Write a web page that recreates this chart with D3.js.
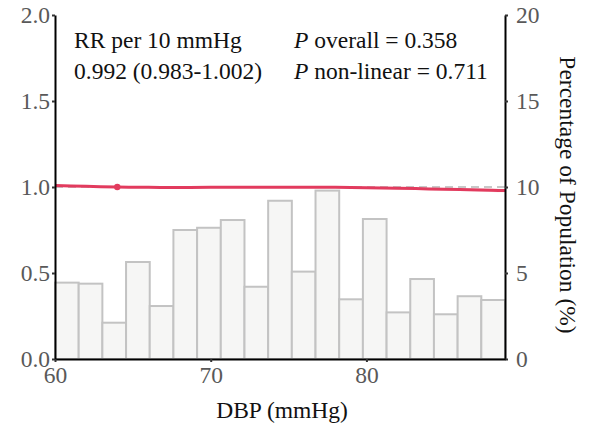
<!doctype html>
<html lang="en">
<head>
    <meta charset="utf-8">
    <script src="https://d3js.org/d3.v7.min.js"></script>
    <style>
        html, body {
            margin: 0;
            padding: 0;
            background: #fff;
        }
        svg text {
            font-family: "Liberation Serif", "DejaVu Serif", serif;
        }
    </style>
</head>
<body>
<svg id="svg" width="590" height="429"></svg>
<script>
    // histogram of DBP (percentage of population per bin)
    var binStart = 60;
    var binEnd = 88.9;
    var binPercent = [4.44, 4.38, 2.11, 5.64, 3.08, 7.5, 7.63, 8.08, 4.2, 9.2,
        5.08, 9.79, 3.47, 8.14, 2.71, 4.65, 2.6, 3.65, 3.43];

    // restricted cubic spline curve (RR vs DBP)
    var curveX = [60, 62, 64, 66, 68, 70, 72, 74, 76, 78, 80, 82, 84, 86, 88, 88.9];
    var curveRR = [1.008, 1.004, 1.0, 0.998, 0.997, 0.998, 0.999, 0.999, 0.999, 0.998, 0.996, 0.993, 0.989, 0.985, 0.981, 0.979];
    var curveLo = [1.0, 0.999, 1.0, 0.995, 0.993, 0.994, 0.995, 0.995, 0.995, 0.994, 0.991, 0.987, 0.982, 0.977, 0.971, 0.969];
    var curveHi = [1.016, 1.009, 1.0, 1.001, 1.001, 1.002, 1.003, 1.003, 1.003, 1.002, 1.001, 0.999, 0.996, 0.993, 0.991, 0.989];
    var refX = 64;

    var leftTicks = [0, 0.5, 1.0, 1.5, 2.0];
    var rightTicks = [0, 5, 10, 15, 20];
    var xTicks = [60, 70, 80];

    var svg = d3.select("#svg");
    var plotL = 55, plotR = 505, plotT = 15, plotB = 359;
    var fs = "23.5px";

    var x = d3.scaleLinear().domain([binStart, binEnd]).range([plotL, plotR]);
    var yRR = d3.scaleLinear().domain([0, 2]).range([plotB, plotT]);
    var yPct = d3.scaleLinear().domain([0, 20]).range([plotB, plotT]);

    var binW = (binEnd - binStart) / binPercent.length;

    // bars
    svg.append("g").selectAll("rect")
        .data(binPercent)
        .enter().append("rect")
        .attr("x", function (d, i) { return x(binStart + i * binW); })
        .attr("y", function (d) { return yPct(d); })
        .attr("width", x(binStart + binW) - x(binStart))
        .attr("height", function (d) { return plotB - yPct(d); })
        .attr("fill", "#f6f6f5")
        .attr("stroke", "#c3c3c3")
        .attr("stroke-width", 2);

    // reference line at RR = 1
    svg.append("line")
        .attr("x1", plotL).attr("x2", plotR)
        .attr("y1", yRR(1)).attr("y2", yRR(1))
        .attr("stroke", "#c8c8c8")
        .attr("stroke-width", 2)
        .attr("stroke-dasharray", "8,5");

    var pts = curveX.map(function (v, i) {
        return {x: v, rr: curveRR[i], lo: curveLo[i], hi: curveHi[i]};
    });

    // confidence band
    svg.append("path")
        .datum(pts)
        .attr("d", d3.area()
            .x(function (d) { return x(d.x); })
            .y0(function (d) { return yRR(d.lo); })
            .y1(function (d) { return yRR(d.hi); })
            .curve(d3.curveMonotoneX))
        .attr("fill", "#f7c6d0")
        .attr("opacity", 0.6);

    svg.append("path")
        .datum(pts)
        .attr("d", d3.line()
            .x(function (d) { return x(d.x); })
            .y(function (d) { return yRR(d.rr); })
            .curve(d3.curveMonotoneX))
        .attr("fill", "none")
        .attr("stroke", "#e23b5e")
        .attr("stroke-width", 3);

    svg.append("circle")
        .attr("cx", x(refX))
        .attr("cy", yRR(1))
        .attr("r", 3.2)
        .attr("fill", "#e23b5e");

    // axes
    var axisStyle = function (g) {
        g.select(".domain").attr("stroke", "#000").attr("stroke-width", 2);
        g.selectAll(".tick line").attr("stroke", "#333").attr("stroke-width", 2);
        g.selectAll(".tick text")
            .attr("fill", "#595959")
            .style("font-family", "Liberation Serif, serif")
            .style("font-size", fs);
    };

    svg.append("g")
        .attr("transform", "translate(" + plotL + ",0)")
        .call(d3.axisLeft(yRR).tickValues(leftTicks).tickFormat(d3.format(".1f"))
            .tickSize(3).tickSizeOuter(0).tickPadding(2))
        .call(axisStyle);

    svg.append("g")
        .attr("transform", "translate(" + plotR + ",0)")
        .call(d3.axisRight(yPct).tickValues(rightTicks).tickFormat(d3.format("d"))
            .tickSize(3).tickSizeOuter(0).tickPadding(8))
        .call(axisStyle);

    svg.append("g")
        .attr("transform", "translate(0," + plotB + ")")
        .call(d3.axisBottom(x).tickValues(xTicks).tickFormat(d3.format("d"))
            .tickSize(3).tickSizeOuter(0).tickPadding(4))
        .call(axisStyle);

    // titles
    svg.append("text")
        .attr("x", 282).attr("y", 418)
        .attr("text-anchor", "middle")
        .style("font-size", fs)
        .attr("fill", "#111")
        .text("DBP (mmHg)");

    svg.append("text")
        .attr("transform", "translate(560,195) rotate(90)")
        .attr("text-anchor", "middle")
        .style("font-size", fs)
        .attr("fill", "#111")
        .text("Percentage of Population (%)");

    // annotations
    var note = svg.append("g").style("font-size", fs).attr("fill", "#111");
    note.append("text").attr("x", 74).attr("y", 48).text("RR per 10 mmHg");
    note.append("text").attr("x", 74).attr("y", 79).text("0.992 (0.983-1.002)");

    var p1 = note.append("text").attr("x", 294).attr("y", 48);
    p1.append("tspan").style("font-style", "italic").text("P");
    p1.append("tspan").text(" overall = 0.358");
    var p2 = note.append("text").attr("x", 294).attr("y", 79);
    p2.append("tspan").style("font-style", "italic").text("P");
    p2.append("tspan").text(" non-linear = 0.711");
</script>
</body>
</html>
